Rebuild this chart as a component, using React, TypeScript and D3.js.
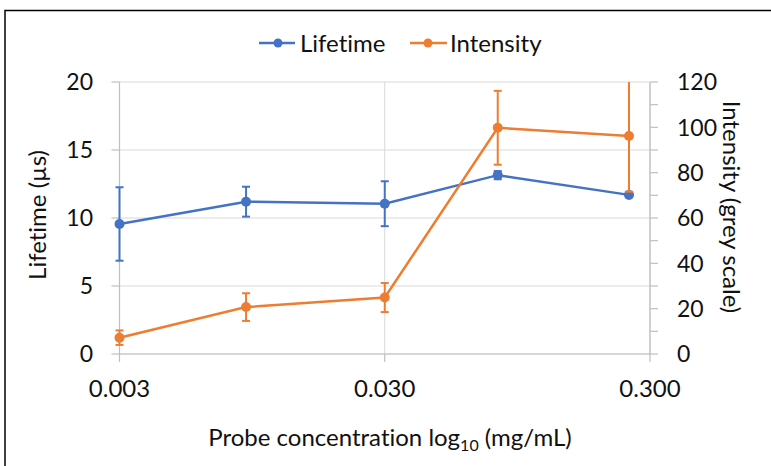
import React from "react";
import * as d3 from "d3";

const concentrations = [0.003, 0.009, 0.03, 0.08, 0.25];
const lifetime = [9.56, 11.2, 11.05, 13.15, 11.7];
const lifetimeErr = [2.7, 1.1, 1.65, 0.3, 0.15];
const intensity = [7.2, 20.7, 24.9, 99.8, 96.2];
const intensityErr = [3.2, 6.1, 6.4, 16.3, 24.6];
const xTicks = [0.003, 0.03, 0.3];
const leftTicks = [0, 5, 10, 15, 20];
const rightTicks = [0, 20, 40, 60, 80, 100, 120];
const rightMinorTicks = [0, 10, 20, 30, 40, 50, 60, 70, 80, 90, 100, 110, 120];

const BLUE = "#4472C4";
const ORANGE = "#ED7D31";
const FONT = "Lato, 'Open Sans', sans-serif";
const TEXT = "#111";
const FS = 24;
const TFS = 23;

export default function App() {
  const W = 771, H = 466;
  const left = 119.5, right = 650, top = 82, bottom = 354;
  const x = d3.scaleLog().domain([0.003, 0.3]).range([left, right]);
  const yL = d3.scaleLinear().domain([0, 20]).range([bottom, top]);
  const yR = d3.scaleLinear().domain([0, 120]).range([bottom, top]);
  const lineL = d3.line<number>().x((_, i) => x(concentrations[i])).y((d) => yL(d));
  const lineR = d3.line<number>().x((_, i) => x(concentrations[i])).y((d) => yR(d));
  const clampY = (v: number) => Math.max(top, Math.min(bottom, v));

  const errBars = (vals: number[], errs: number[], sc: d3.ScaleLinear<number, number>, color: string, key: string) =>
    vals.map((v, i) => {
      const cx = x(concentrations[i]);
      const y1 = clampY(sc(v + errs[i]));
      const y2 = clampY(sc(v - errs[i]));
      const capTop = sc(v + errs[i]) >= top;
      return (
        <g key={key + i} stroke={color} strokeWidth={2}>
          <line x1={cx} x2={cx} y1={y1} y2={y2} />
          {capTop && <line x1={cx - 4} x2={cx + 4} y1={y1} y2={y1} />}
          <line x1={cx - 4} x2={cx + 4} y1={y2} y2={y2} />
        </g>
      );
    });

  return (
    <svg width={W} height={H} style={{ position: "fixed", left: 0, top: 0, background: "#fff", fontVariantLigatures: "none" }} fontFamily={FONT}>
      <rect x={5} y={10.5} width={W + 20} height={H + 20} fill="#fff" stroke="#000" strokeWidth={1.5} />
      {/* gridlines */}
      {leftTicks.map((t) => (
        <line key={"hg" + t} x1={left} x2={right} y1={yL(t)} y2={yL(t)} stroke="#d9d9d9" strokeWidth={1} />
      ))}
      {xTicks.map((t) => (
        <line key={"vg" + t} x1={x(t)} x2={x(t)} y1={top} y2={bottom} stroke="#d9d9d9" strokeWidth={1} />
      ))}
      {/* axes */}
      <line x1={left} x2={left} y1={top} y2={bottom} stroke="#bfbfbf" strokeWidth={1.2} />
      <line x1={left} x2={right} y1={bottom} y2={bottom} stroke="#bfbfbf" strokeWidth={1.2} />
      <line x1={right} x2={right} y1={top} y2={bottom} stroke="#bfbfbf" strokeWidth={1.2} />
      {leftTicks.map((t) => (
        <g key={"lt" + t}>
          <line x1={left - 8} x2={left} y1={yL(t)} y2={yL(t)} stroke="#bfbfbf" strokeWidth={1.2} />
          <text x={93} y={yL(t)} dy="0.36em" textAnchor="end" fontSize={TFS} fill={TEXT}>{t}</text>
        </g>
      ))}
      {rightMinorTicks.map((t) => (
        <line key={"rm" + t} x1={right} x2={right + 8} y1={yR(t)} y2={yR(t)} stroke="#bfbfbf" strokeWidth={1.2} />
      ))}
      {rightTicks.map((t) => (
        <text key={"rt" + t} x={677} y={yR(t)} dy="0.36em" textAnchor="start" fontSize={TFS} fill={TEXT}>{t}</text>
      ))}
      {xTicks.map((t) => (
        <g key={"xt" + t}>
          <line x1={x(t)} x2={x(t)} y1={bottom} y2={bottom + 8} stroke="#bfbfbf" strokeWidth={1.2} />
          <text x={x(t)} y={397} textAnchor="middle" fontSize={FS} fill={TEXT}>{t.toFixed(3)}</text>
        </g>
      ))}
      {/* titles */}
      <text x={390} y={446} textAnchor="middle" fontSize={FS} fill={TEXT}>
        Probe concentration log<tspan fontSize={16} dy={5}>10</tspan><tspan dy={-5}> (mg/mL)</tspan>
      </text>
      <text transform={`translate(46,215) rotate(-90)`} textAnchor="middle" fontSize={FS} fill={TEXT}>Lifetime (µs)</text>
      <text transform={`translate(723,207) rotate(90)`} textAnchor="middle" fontSize={FS} fill={TEXT}>Intensity (grey scale)</text>
      {/* legend */}
      <line x1={259} x2={295} y1={43} y2={43} stroke={BLUE} strokeWidth={2.5} />
      <circle cx={278} cy={43} r={4.5} fill={BLUE} />
      <text x={300} y={52} fontSize={FS} fill={TEXT}>Lifetime</text>
      <line x1={410} x2={447} y1={43} y2={43} stroke={ORANGE} strokeWidth={2.5} />
      <circle cx={428} cy={43} r={4.5} fill={ORANGE} />
      <text x={450} y={52} fontSize={FS} fill={TEXT}>Intensity</text>
      {/* series */}
      <path d={lineL(lifetime) || ""} fill="none" stroke={BLUE} strokeWidth={2.5} />
      {errBars(lifetime, lifetimeErr, yL, BLUE, "le")}
      {lifetime.map((v, i) => (
        <circle key={"lc" + i} cx={x(concentrations[i])} cy={yL(v)} r={5} fill={BLUE} />
      ))}
      <path d={lineR(intensity) || ""} fill="none" stroke={ORANGE} strokeWidth={2.5} />
      {errBars(intensity, intensityErr, yR, ORANGE, "ie")}
      {intensity.map((v, i) => (
        <circle key={"ic" + i} cx={x(concentrations[i])} cy={yR(v)} r={5} fill={ORANGE} />
      ))}
    </svg>
  );
}
